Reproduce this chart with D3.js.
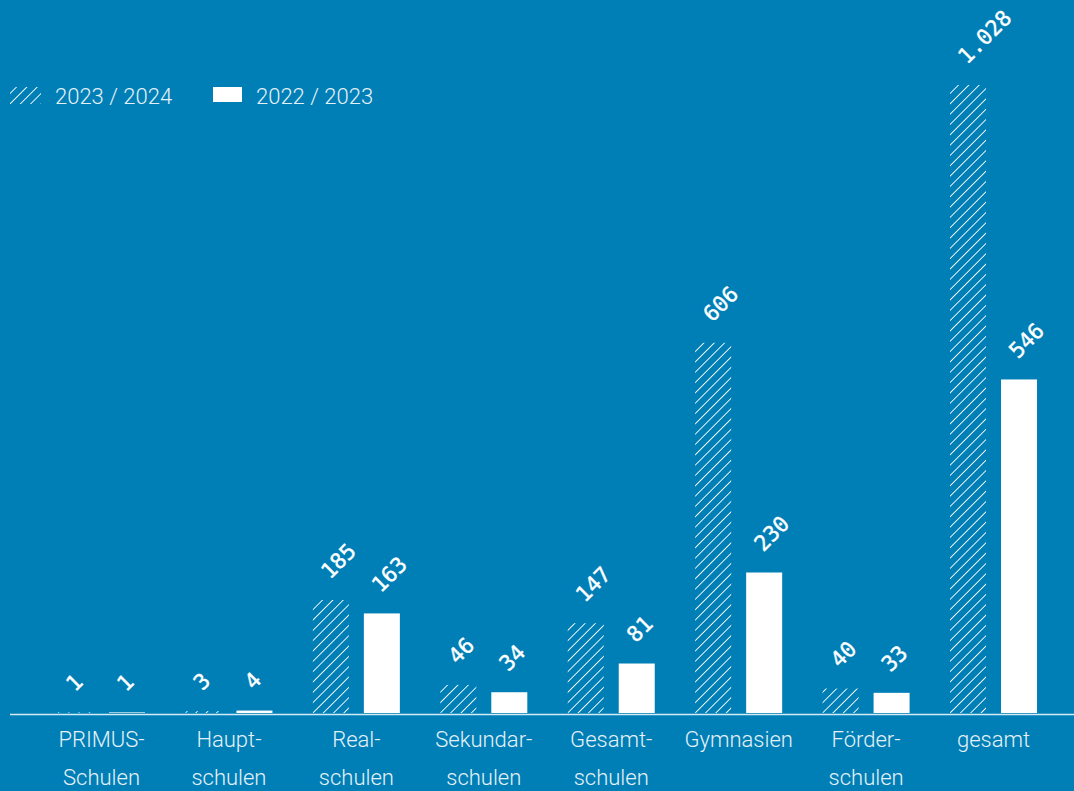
<!DOCTYPE html>
<html>
<head>
<meta charset="utf-8">
<script src="https://cdn.jsdelivr.net/npm/d3@7"></script>
<style>
  html, body { margin: 0; padding: 0; background: #007fb6; }
  svg { display: block; }
</style>
</head>
<body>
<div id="chart"></div>
<script>
(function() {
    const width = 1074;
    const height = 791;

    // Daten
    const categories = ["PRIMUS-|Schulen", "Haupt-|schulen", "Real-|schulen", "Sekundar-|schulen",
        "Gesamt-|schulen", "Gymnasien", "Förder-|schulen", "gesamt"];
    const seriesNames = ["2023 / 2024", "2022 / 2023"];
    const values2324 = [1, 3, 185, 46, 147, 606, 40, 1028];
    const values2223 = [1, 4, 163, 34, 81, 230, 33, 546];

    const bg = "#007fb6";
    const de = d3.formatLocale({ decimal: ",", thousands: ".", grouping: [3], currency: ["", " €"] });
    const fmt = de.format(",d");

    const svg = d3.select("#chart")
        .append("svg")
        .attr("width", width)
        .attr("height", height)
        .style("background", bg);

    // Schraffur
    const defs = svg.append("defs");
    defs.append("pattern")
        .attr("id", "hatch")
        .attr("patternUnits", "userSpaceOnUse")
        .attr("width", 7.3)
        .attr("height", 7.3)
        .attr("patternTransform", "rotate(45)")
        .append("line")
        .attr("x1", 0).attr("y1", 0)
        .attr("x2", 0).attr("y2", 7.3)
        .attr("stroke", "#fff")
        .attr("stroke-width", 1.8);

    const x0 = d3.scaleBand()
        .domain(categories)
        .range([37.8, 37.8 + 8 * 127.43])
        .paddingInner(0)
        .paddingOuter(0);

    const x1 = d3.scaleBand()
        .domain(seriesNames)
        .range([0, 87])
        .paddingInner(0.294);

    const y = d3.scaleLinear()
        .domain([0, 1028])
        .range([713, 85]);

    const rows = categories.map((c, i) => ({
        cat: c,
        vals: [
            { s: seriesNames[0], v: values2324[i] },
            { s: seriesNames[1], v: values2223[i] }
        ]
    }));

    const groups = svg.selectAll(".grp")
        .data(rows)
        .join("g")
        .attr("class", "grp")
        .attr("transform", d => `translate(${x0(d.cat) + x0.bandwidth() / 2 - 43.5},0)`);

    groups.selectAll("rect")
        .data(d => d.vals)
        .join("rect")
        .attr("x", d => x1(d.s))
        .attr("y", d => y(d.v))
        .attr("width", x1.bandwidth())
        .attr("height", d => y(0) - y(d.v))
        .attr("fill", d => d.s === seriesNames[0] ? "url(#hatch)" : "#fff");

    // Werte, schräg
    groups.selectAll("text.val")
        .data(d => d.vals)
        .join("text")
        .attr("class", "val")
        .attr("transform", d => `translate(${x1(d.s) + 17},${y(d.v) - 20}) rotate(-45)`)
        .attr("fill", "#fff")
        .style("font-family", "'DejaVu Sans Mono', monospace")
        .style("font-size", "21.5px")
        .style("stroke", "#fff")
        .style("stroke-width", 0.4)
        .text(d => fmt(d.v));

    // Achsenlinie
    svg.append("line")
        .attr("x1", 10).attr("x2", width)
        .attr("y1", 714.5).attr("y2", 714.5)
        .attr("stroke", "#d4ebf5")
        .attr("stroke-width", 1.5);

    // Kategorien
    const lab = svg.selectAll(".cat")
        .data(categories)
        .join("text")
        .attr("class", "cat")
        .attr("text-anchor", "middle")
        .attr("fill", "#e6f1f7")
        .style("font-family", "Roboto, sans-serif")
        .style("font-weight", 300)
        .style("font-size", "22px");

    lab.selectAll("tspan")
        .data(d => d.split("|").map(t => ({ t, c: d })))
        .join("tspan")
        .attr("x", d => x0(d.c) + x0.bandwidth() / 2)
        .attr("y", (d, i) => 747 + i * 38)
        .text(d => d.t);

    // Legende
    const legend = svg.append("g");
    const legX = [10, 213];
    const lg = legend.selectAll("g")
        .data(seriesNames)
        .join("g")
        .attr("transform", (d, i) => `translate(${legX[i]},0)`);
    lg.append("rect")
        .attr("x", 0)
        .attr("y", 87)
        .attr("width", (d, i) => i === 0 ? 31 : 29)
        .attr("height", (d, i) => i === 0 ? 17 : 15)
        .attr("fill", (d, i) => i === 0 ? "url(#hatch)" : "#fff");
    lg.append("text")
        .attr("x", (d, i) => i === 0 ? 45 : 43)
        .attr("y", 104)
        .attr("fill", "#e6f1f7")
        .style("font-family", "Roboto, sans-serif")
        .style("font-weight", 300)
        .style("font-size", "22px")
        .text(d => d);
})();
</script>
</body>
</html>
